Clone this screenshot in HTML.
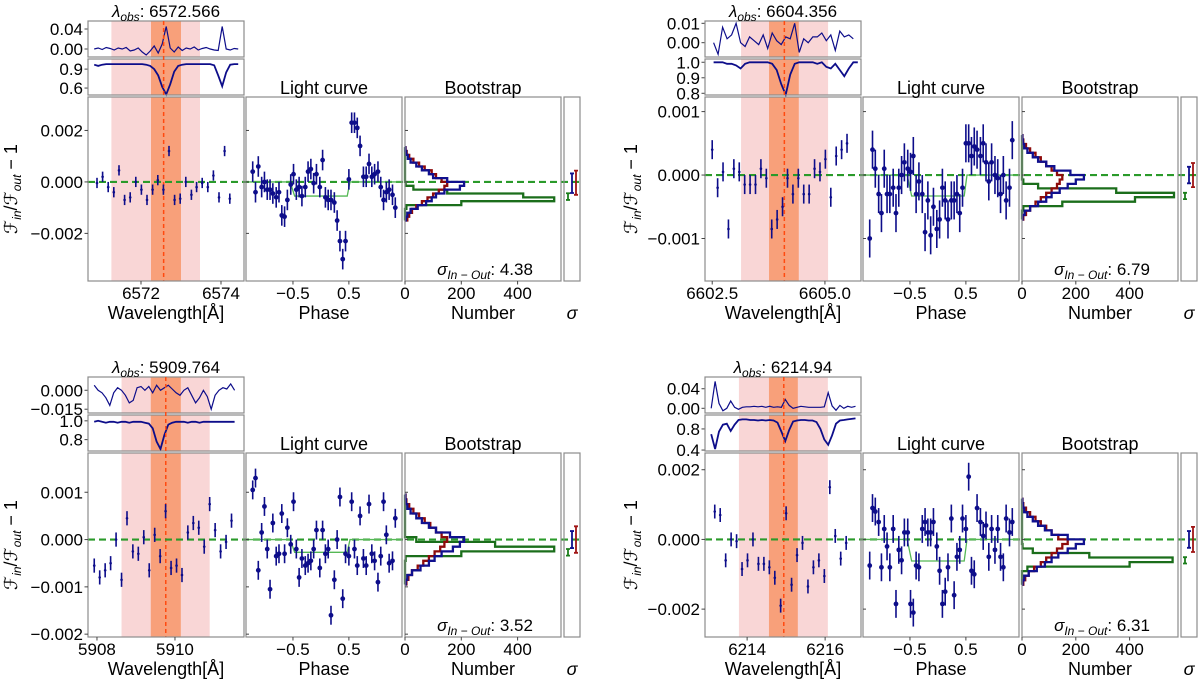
<!DOCTYPE html>
<html><head><meta charset="utf-8"><style>
html,body{margin:0;padding:0;background:#fff;}
svg{display:block;font-family:"Liberation Sans","DejaVu Sans",sans-serif;}
</style></head><body>
<svg id="fig" width="1200" height="684" viewBox="0 0 1200 684" xmlns="http://www.w3.org/2000/svg"></svg>
<script>
// ---------- data (flux values in units of 1e-3) ----------
const wlTL=[6570.90,6571.04,6571.18,6571.32,6571.45,6571.59,6571.73,6571.87,6572.01,6572.15,6572.29,6572.42,6572.56,6572.70,6572.84,6572.98,6573.12,6573.26,6573.39,6573.53,6573.67,6573.81,6573.95,6574.09,6574.22];
const valTL=[-0.04,0.2,-0.2,-0.4,0.45,-0.7,-0.6,0,-0.3,-0.7,-0.3,0.07,-0.3,1.2,-0.7,-0.65,0,-0.5,-0.2,-0.04,-0.2,0.25,-0.6,1.2,-0.65];
const wlTR=[6602.50,6602.62,6602.74,6602.86,6602.98,6603.10,6603.22,6603.34,6603.46,6603.58,6603.70,6603.82,6603.94,6604.06,6604.17,6604.29,6604.41,6604.53,6604.65,6604.77,6604.89,6605.01,6605.13,6605.25,6605.37,6605.49];
const valTR=[0.4,-0.2,0.05,-0.85,0.1,0.05,-0.15,-0.15,-0.15,0.1,-0.05,-0.85,-0.7,-0.5,-0.05,-0.3,-0.05,-0.3,-0.3,0.1,0.05,0.25,-0.35,0.3,0.4,0.5];
const wlBL=[5907.93,5908.07,5908.21,5908.35,5908.49,5908.63,5908.77,5908.92,5909.06,5909.20,5909.34,5909.48,5909.62,5909.76,5909.90,5910.04,5910.18,5910.33,5910.47,5910.61,5910.75,5910.89,5911.03,5911.17,5911.31,5911.45];
const valBL=[-0.55,-0.8,-0.65,-0.5,0,-0.85,0.45,-0.25,-0.3,0.05,-0.65,0.1,-0.35,0.6,-0.6,-0.55,-0.75,0.15,0.35,0.25,-0.15,0.75,0.2,-0.25,-0.05,0.4];
const wlBR=[6213.17,6213.31,6213.45,6213.59,6213.73,6213.87,6214.01,6214.15,6214.29,6214.43,6214.57,6214.71,6214.86,6215.00,6215.14,6215.28,6215.42,6215.56,6215.70,6215.84,6215.98,6216.12,6216.26,6216.40,6216.54];
const valBR=[0.8,0.7,-0.6,0,-0.05,-0.85,-0.6,0,-0.7,-0.7,-0.8,-1.1,-1.9,0.75,-1.3,-0.45,-0.1,-1.35,-0.8,-0.6,-1.05,1.5,0.1,-0.55,-0.1];

const phases=[-1.22,-1.17,-1.12,-1.06,-1.01,-0.96,-0.91,-0.86,-0.80,-0.75,-0.70,-0.65,-0.60,-0.54,-0.49,-0.44,-0.39,-0.34,-0.28,-0.23,-0.18,-0.13,-0.08,-0.02,0.03,0.08,0.13,0.18,0.24,0.29,0.34,0.39,0.44,0.50,0.55,0.60,0.65,0.70,0.76,0.81,0.86,0.91,0.96,1.02,1.07,1.12,1.17,1.22,1.28,1.33];
const lcTL=[0.4,-0.4,0.6,-0.2,0,-0.3,-0.3,-0.45,-0.6,-0.4,-1.3,-1.35,-0.7,-0.1,0.3,-0.3,-0.2,-0.55,-0.2,0.4,0.5,-0.05,0.3,-0.2,0.85,-0.6,-0.7,-0.7,-0.8,-1.5,-2.3,-3.0,-2.3,0.1,2.3,2.3,2.1,1.4,0.2,0.2,0.7,0.2,0.3,0.4,-0.2,-0.7,-0.4,-0.3,-0.5,-1.0];
const lcTR=[-1.0,0.4,0.1,-0.3,-0.6,0.1,-0.3,-0.3,-0.2,-0.6,-0.2,0.0,0.2,0.1,0.05,0.3,-0.3,-0.1,-0.3,-0.9,-0.4,-0.95,-0.5,-0.85,-0.7,-0.2,-0.4,-0.7,-0.4,-0.4,-0.3,-0.6,-0.2,0.5,0.5,0.3,0.45,0.4,0.3,0.5,0.2,-0.1,0.2,0.0,-0.05,-0.3,0.0,-0.4,-0.2,0.55];
const lcBL=[1.05,1.3,-0.65,0.15,0.7,-0.2,-1.05,0.35,-0.35,-0.3,0.55,-0.3,0.25,-0.1,0.8,-0.2,-0.8,-0.4,-0.55,-0.5,-0.45,-0.2,0.2,-0.6,0.2,-0.3,-0.2,-1.6,-0.85,0.0,0.9,-1.25,-0.3,-0.35,0.8,-0.2,-0.55,0.5,-0.4,-0.55,0.75,-0.3,-0.45,-0.9,-0.35,0.8,0.1,-0.5,-0.45,0.45];
const lcBR=[-0.75,0.9,0.8,0.5,-0.8,0.3,-0.2,-0.8,0.3,-1.85,-0.3,-0.6,0.2,0.2,-1.85,-2.1,-0.75,-0.8,0.3,0.5,0.2,0.2,0.5,-0.2,-0.9,-1.85,-1.5,-0.8,0.6,-1.6,-0.5,-0.3,0.6,0.3,1.8,-0.9,-1.0,0.9,0.5,0.1,0.4,-0.5,0.3,-0.3,0.3,-0.5,-0.8,0.6,0.2,0.5];

const histBlueTL=[3,8,20,45,75,95,110,140,195,210,150,100,85,60,40,20,10,4,1];
const histRedTL=[8,15,25,40,60,80,100,120,140,150,130,110,95,70,50,30,15,6,2];
const histGreenTL=[0,0,0,5,200,530,420,150,30,2,0,0,0,0,0,0,0,0,0];
const histBlueTR=[2,10,30,60,90,110,140,170,200,230,180,120,90,60,40,20,8,3,1];
const histRedTR=[5,15,30,50,70,90,110,130,140,150,130,110,90,70,50,30,15,5,2];
const histGreenTR=[0,0,5,150,420,565,350,60,5,0,0,0,0,0,0,0,0,0,0];
const histBlueBL=[2,8,25,55,85,105,130,170,195,210,160,110,85,60,40,20,8,3,1];
const histRedBL=[5,12,25,45,65,85,105,125,140,150,130,110,90,70,50,30,15,5,2];
const histGreenBL=[0,0,0,0,0,2,200,530,320,40,0,0,0,0,0,0,0,0,0];
const histBlueBR=[2,8,25,55,85,110,135,170,200,230,170,110,85,60,40,20,8,3,1];
const histRedBR=[5,12,25,45,70,90,110,130,150,170,135,110,90,70,50,30,15,5,2];
const histGreenBR=[0,0,0,20,400,560,250,40,2,0,0,0,0,0,0,0,0,0,0];

const resTL=[0.000,0.002,-0.001,0.003,0.001,-0.002,0.002,0.000,0.003,-0.004,-0.002,0.002,-0.006,-0.012,-0.004,0.006,-0.008,0.010,0.045,0.002,-0.006,0.004,-0.003,0.002,0.000,0.004,-0.002,0.001,0.003,0.000,-0.002,-0.003,0.045,0.000,-0.002,0.001,0.000];
const fluxTL=[0.97,0.95,0.97,0.98,0.98,0.98,0.98,0.98,0.98,0.98,0.98,0.98,0.98,0.97,0.95,0.90,0.80,0.62,0.50,0.66,0.86,0.95,0.97,0.98,0.98,0.98,0.98,0.98,0.98,0.98,0.96,0.80,0.63,0.85,0.97,0.98,0.98];
const resTR=[0.000,-0.006,0.008,0.002,0.004,0.010,0.000,-0.002,0.003,0.001,-0.001,0.004,-0.003,0.005,0.001,-0.001,0.003,0.002,0.010,-0.005,0.002,0.000,0.003,0.003,0.005,0.001,0.004,-0.004,0.006,0.003,0.004,0.002];
const fluxTR=[1.00,1.00,1.00,0.99,0.99,0.98,0.96,0.99,1.00,1.00,1.00,1.00,1.00,0.99,0.95,0.86,0.79,0.92,0.99,1.00,1.00,1.00,1.00,0.99,1.00,0.97,0.96,0.99,0.95,0.91,0.96,1.00,1.00];
const resBL=[0.004,0.000,-0.002,-0.006,-0.012,-0.002,0.002,0.000,-0.004,-0.010,-0.008,0.002,0.003,0.000,0.003,-0.002,0.004,0.000,0.002,0.004,0.001,-0.002,-0.004,0.000,0.002,-0.004,-0.010,-0.006,0.000,-0.005,-0.015,-0.004,0.000,0.002,0.001,0.005,0.000];
const fluxBL=[0.99,1.00,0.99,0.98,0.99,0.99,0.98,0.99,0.99,0.98,0.99,0.99,0.99,0.98,0.97,0.92,0.78,0.70,0.85,0.96,0.98,0.99,0.99,0.99,0.98,0.99,0.99,0.98,0.99,0.99,0.99,0.99,0.99,0.99,0.99,0.99,0.99];
const resBR=[0.000,0.055,0.010,-0.005,0.000,0.015,0.002,-0.002,0.002,0.003,0.003,0.004,0.003,0.004,0.002,0.004,0.002,0.003,0.002,0.018,0.006,0.000,0.002,0.004,0.003,0.002,0.002,0.002,0.002,0.003,0.032,0.005,-0.004,0.006,0.000,0.004,0.002,0.004];
const fluxBR=[0.70,0.42,0.75,0.88,0.90,0.76,0.88,0.97,0.98,0.98,0.97,0.97,0.96,0.97,0.96,0.97,0.96,0.92,0.75,0.57,0.78,0.94,0.96,0.97,0.97,0.96,0.96,0.93,0.80,0.60,0.50,0.68,0.90,0.96,0.97,0.98,0.99,1.00];

// sigma panel: [center, halfwidth] in 1e-3
const sigTL=[[-0.05,0.38],[-0.03,0.47],[-0.57,0.13]];
const sigTR=[[0,0.13],[0,0.19],[-0.33,0.05]];
const sigBL=[[0,0.18],[0,0.28],[-0.27,0.07]];
const sigBR=[[0,0.24],[0,0.36],[-0.6,0.09]];

const panels=[
 {name:'halpha',ox:0,oy:0,lam:'6572.566',sig:'4.38',wl:wlTL,val:valTL,lc:lcTL,hb:histBlueTL,hr:histRedTL,hg:histGreenTL,sg:sigTL,res:resTL,flux:fluxTL,
  xlo:6570.675,xhi:6574.575,ylo:-3.85,yhi:3.3,xt:[6572,6574],xtl:['6572','6574'],yt:[2,0,-2],ytl:['0.002','0.000','\u22120.002'],
  pink:[6571.26,6573.475],dark:[6572.25,6573.0],line:6572.566,err:0.2,lcerr:0.4,step:-0.55,hs:-1.5,hd:0.15,cs:0.2815,
  sx0:6570.83,sdx:0.1,r1:[-0.016,0.056],r1t:[0.04,0],r1l:['0.04','0.00'],r2:[0.49,1.06],r2t:[0.9,0.6],r2l:['0.9','0.6'],ylx:11},
 {name:'line-6604',ox:617,oy:0,lam:'6604.356',sig:'6.79',wl:wlTR,val:valTR,lc:lcTR,hb:histBlueTR,hr:histRedTR,hg:histGreenTR,sg:sigTR,res:resTR,flux:fluxTR,
  xlo:6602.34,xhi:6605.8,ylo:-1.67,yhi:1.23,xt:[6602.5,6605.0],xtl:['6602.5','6605.0'],yt:[1,0,-1],ytl:['0.001','0.000','\u22120.001'],
  pink:[6603.14,6605.07],dark:[6603.76,6604.42],line:6604.1,err:0.15,lcerr:0.3,step:-0.33,hs:-0.7,hd:0.07,cs:0.269,
  sx0:6602.53,sdx:0.1,r1:[-0.0074,0.0112],r1t:[0.01,0],r1l:['0.01','0.00'],r2:[0.789,1.021],r2t:[1.0,0.9,0.8],r2l:['1.0','0.9','0.8'],ylx:14},
 {name:'line-5910',ox:0,oy:356,lam:'5909.764',sig:'3.52',wl:wlBL,val:valBL,lc:lcBL,hb:histBlueBL,hr:histRedBL,hg:histGreenBL,sg:sigBL,res:resBL,flux:fluxBL,
  xlo:5907.77,xhi:5911.77,ylo:-2.06,yhi:1.83,xt:[5908,5910],xtl:['5908','5910'],yt:[1,0,-1,-2],ytl:['0.001','0.000','\u22120.001','\u22120.002'],
  pink:[5908.63,5910.89],dark:[5909.38,5910.15],line:5909.764,err:0.15,lcerr:0.2,step:-0.27,hs:-0.95,hd:0.1,cs:0.2815,
  sx0:5907.93,sdx:0.1,r1:[-0.018,0.0105],r1t:[0,-0.015],r1l:['0.000','\u22120.015'],r2:[0.679,1.062],r2t:[1.0,0.8],r2l:['1.0','0.8'],ylx:11},
 {name:'line-6215',ox:617,oy:356,lam:'6214.94',sig:'6.31',wl:wlBR,val:valBR,lc:lcBR,hb:histBlueBR,hr:histRedBR,hg:histGreenBR,sg:sigBR,res:resBR,flux:fluxBR,
  xlo:6212.92,xhi:6216.92,ylo:-2.8,yhi:2.48,xt:[6214,6216],xtl:['6214','6216'],yt:[2,0,-2],ytl:['0.002','0.000','\u22120.002'],
  pink:[6213.79,6216.07],dark:[6214.56,6215.3],line:6214.94,err:0.2,lcerr:0.4,step:-0.62,hs:-1.3,hd:0.13,cs:0.269,
  sx0:6213.08,sdx:0.1,r1:[-0.0096,0.064],r1t:[0.04,0],r1l:['0.04','0.00'],r2:[0.382,1.064],r2t:[0.8,0.4],r2l:['0.8','0.4'],ylx:14}
];

// ---------- drawing ----------
const NS='http://www.w3.org/2000/svg';
const svg=document.getElementById('fig');
function mk(tag,attrs,parent,txt){const e=document.createElementNS(NS,tag);for(const k in attrs)e.setAttribute(k,attrs[k]);if(txt!==undefined)e.textContent=txt;(parent||svg).appendChild(e);return e;}
const BLUE='#0d0d8a',AX='#8c8c8c',FS=17;
const PH_LO=-1.34,PH_HI=1.45;

panels.forEach(p=>{
  const g=mk('g',{});
  
  
  const ox=p.ox,oy=p.oy;
  const MX0=88+ox,MX1=244+ox,LX0=246+ox,LX1=402+ox,BX0=405+ox,BX1=561+ox,SX0=564+ox,SX1=580+ox;
  const MY0=97+oy,MY1=281+oy,T1=[21+oy,57+oy],T2=[59+oy,95+oy];
  const sx=v=>MX0+(v-p.xlo)/(p.xhi-p.xlo)*(MX1-MX0);
  const sy=v=>MY0+(p.yhi-v)/(p.yhi-p.ylo)*(MY1-MY0);
  const px=v=>LX0+(v-PH_LO)/(PH_HI-PH_LO)*(LX1-LX0);
  const cx=c=>BX0+c*p.cs;

  [[p.pink,'#f9d6d6'],[p.dark,'#f8a07a']].forEach(([r,col],i)=>{
    const sp=mk('rect',{x:sx(r[0]),y:T1[0],width:sx(r[1])-sx(r[0]),height:MY1-T1[0],fill:col},g);
    
    
  });
  mk('rect',{x:MX0-1,y:T1[1]+0.6,width:MX1-MX0+2,height:1.6,fill:'#fff'},g);
  mk('rect',{x:MX0-1,y:T2[1]+0.6,width:MX1-MX0+2,height:1.6,fill:'#fff'},g);

  [[p.res,T1,p.r1,p.r1t,p.r1l,'residual-spectrum',1.2],[p.flux,T2,p.r2,p.r2t,p.r2l,'flux-spectrum',1.8]].forEach(([arr,T,r,tk,tl,nm,w])=>{
    const yy=v=>T[1]-(v-r[0])/(r[1]-r[0])*(T[1]-T[0]);
    const d=arr.map((v,i)=>(i?'L':'M')+sx(p.sx0+i*p.sdx).toFixed(1)+','+yy(v).toFixed(1)).join('');
    const l=mk('path',{d:d,fill:'none',stroke:BLUE,'stroke-width':w},g);
    
    
    tk.forEach((t,i)=>{
      mk('line',{x1:MX0-3.5,x2:MX0,y1:yy(t),y2:yy(t),stroke:'#444','stroke-width':1},g);
      const tx=mk('text',{x:MX0-5,y:yy(t)+6,'text-anchor':'end','font-size':FS},g,tl[i]);
      
      
    });
    const fr=mk('rect',{x:MX0,y:T[0],width:MX1-MX0,height:T[1]-T[0],fill:'none',stroke:AX,'stroke-width':1.2},g);
    
    
  });
  const cl=mk('line',{x1:sx(p.line),x2:sx(p.line),y1:T1[0],y2:MY1,stroke:'#ff4a10','stroke-width':1.5,'stroke-dasharray':'4,3'},g);
  
  

  const tt=mk('text',{x:(MX0+MX1)/2,y:17+oy,'text-anchor':'middle','font-size':FS},g);
  
  
  mk('tspan',{'font-style':'italic'},tt,'\u03bb');
  mk('tspan',{'font-size':12,dy:4,'font-style':'italic'},tt,'obs');
  mk('tspan',{dy:-4},tt,': '+p.lam);

  const zl=mk('line',{x1:MX0,x2:SX1,y1:sy(0),y2:sy(0),stroke:'#2a9a2a','stroke-width':2.2,'stroke-dasharray':'7,4'},g);
  
  

  p.wl.forEach((w,i)=>{
    const x=sx(w),y=sy(p.val[i]);
    const e=mk('line',{x1:x,x2:x,y1:sy(p.val[i]+p.err),y2:sy(p.val[i]-p.err),stroke:BLUE,'stroke-width':1.6},g);
    
    
    const c=mk('circle',{cx:x,cy:y,r:1.3,fill:BLUE},g);
    
    
  });

  const ms=mk('path',{d:`M${LX0},${sy(0)}L${px(-0.55)},${sy(0)}L${px(-0.47)},${sy(p.step)}L${px(0.47)},${sy(p.step)}L${px(0.52)},${sy(0)}L${LX1},${sy(0)}`,fill:'none',stroke:'#55b855','stroke-width':1.3},g);
  
  
  phases.forEach((ph,i)=>{
    const x=px(ph),v=p.lc[i];
    const e=mk('line',{x1:x,x2:x,y1:sy(v+p.lcerr),y2:sy(v-p.lcerr),stroke:BLUE,'stroke-width':1.6},g);
    
    
    const c=mk('circle',{cx:x,cy:sy(v),r:2.4,fill:BLUE},g);
    
    
  });

  [[p.hg,'#1b6e1b','green'],[p.hr,'#8e0b0b','red'],[p.hb,'#10108e','blue']].forEach(([arr,col,nm])=>{
    let d=`M${cx(0)},${sy(p.hs)}`;
    arr.forEach((c,i)=>{d+=`L${cx(c).toFixed(1)},${sy(p.hs+i*p.hd).toFixed(1)}L${cx(c).toFixed(1)},${sy(p.hs+(i+1)*p.hd).toFixed(1)}`;});
    d+=`L${cx(0)},${sy(p.hs+arr.length*p.hd)}`;
    const h=mk('path',{d:d,fill:'none',stroke:col,'stroke-width':2.3},g);
    
    
  });

  [[p.sg[0],SX0+8,'#10108e','blue'],[p.sg[1],SX0+12,'#a01515','red'],[p.sg[2],SX0+4,'#1b7e1b','green']].forEach(([s,x,col,nm])=>{
    const e=mk('path',{d:`M${x},${sy(s[0]+s[1])}L${x},${sy(s[0]-s[1])}M${x-2},${sy(s[0]+s[1])}L${x+2},${sy(s[0]+s[1])}M${x-2},${sy(s[0]-s[1])}L${x+2},${sy(s[0]-s[1])}`,stroke:col,'stroke-width':1.8,fill:'none'},g);
    
    
  });

  [[MX0,MX1,'main-axes'],[LX0,LX1,'lightcurve-axes'],[BX0,BX1,'bootstrap-axes'],[SX0,SX1,'sigma-axes']].forEach(([a,b,nm])=>{
    const f=mk('rect',{x:a,y:MY0,width:b-a,height:MY1-MY0,fill:'none',stroke:AX,'stroke-width':1.2},g);
    
    
  });

  p.yt.forEach((t,i)=>{
    mk('line',{x1:MX0-3.5,x2:MX0,y1:sy(t),y2:sy(t),stroke:'#444'},g);
    mk('line',{x1:LX0,x2:LX0+3,y1:sy(t),y2:sy(t),stroke:'#444'},g);
    mk('line',{x1:BX0,x2:BX0+3,y1:sy(t),y2:sy(t),stroke:'#444'},g);
    const tx=mk('text',{x:MX0-5,y:sy(t)+6,'text-anchor':'end','font-size':FS},g,p.ytl[i]);
    
    
  });
  const TY=MY1+18;
  p.xt.forEach((t,i)=>{
    mk('line',{x1:sx(t),x2:sx(t),y1:MY1,y2:MY1+3.5,stroke:'#444'},g);
    const tx=mk('text',{x:sx(t),y:TY,'text-anchor':'middle','font-size':FS},g,p.xtl[i]);
    
    
  });
  [[-0.5,'\u22120.5'],[0.5,'0.5']].forEach(([t,l])=>{
    mk('line',{x1:px(t),x2:px(t),y1:MY1,y2:MY1+3.5,stroke:'#444'},g);
    const tx=mk('text',{x:px(t),y:TY,'text-anchor':'middle','font-size':FS},g,l);
    
    
  });
  [[0,'0'],[200,'200'],[400,'400']].forEach(([t,l])=>{
    mk('line',{x1:cx(t),x2:cx(t),y1:MY1,y2:MY1+3.5,stroke:'#444'},g);
    const tx=mk('text',{x:cx(t),y:TY,'text-anchor':'middle','font-size':FS},g,l);
    
    
  });

  const AY=MY1+38;
  [['Wavelength[\u00c5]',(MX0+MX1)/2,'x-axis-title-wavelength'],['Phase',(LX0+LX1)/2,'x-axis-title-phase'],['Number',(BX0+BX1)/2,'x-axis-title-number']].forEach(([t,x,nm])=>{
    const tx=mk('text',{x:x,y:AY,'text-anchor':'middle','font-size':FS+1},g,t);
    
    
  });
  const sl=mk('text',{x:(SX0+SX1)/2,y:AY,'text-anchor':'middle','font-size':FS+1,'font-style':'italic'},g,'\u03c3');
  
  
  [['Light curve',(LX0+LX1)/2,'lightcurve-title'],['Bootstrap',(BX0+BX1)/2,'bootstrap-title']].forEach(([t,x,nm])=>{
    const tx=mk('text',{x:x,y:MY0-3,'text-anchor':'middle','font-size':FS+1},g,t);
    
    
  });
  const st=mk('text',{x:(BX0+BX1)/2+2,y:MY1-6,'text-anchor':'middle','font-size':FS},g);
  
  
  mk('tspan',{'font-style':'italic'},st,'\u03c3');
  mk('tspan',{'font-size':12,dy:4,'font-style':'italic'},st,'In \u2212 Out');
  mk('tspan',{dy:-4},st,': '+p.sig);

  const yl=mk('text',{x:0,y:0,'text-anchor':'middle','font-size':FS+1,transform:`translate(${p.ylx+ox+6},${(MY0+MY1)/2}) rotate(-90)`},g);
  
  
  mk('tspan',{'font-style':'italic'},yl,'\u2131');
  mk('tspan',{'font-size':12,dy:4,'font-style':'italic'},yl,'in');
  mk('tspan',{dy:-4},yl,'/');
  mk('tspan',{'font-style':'italic'},yl,'\u2131');
  mk('tspan',{'font-size':12,dy:4,'font-style':'italic'},yl,'out');
  mk('tspan',{dy:-4},yl,' \u2212 1');
});
</script>
</body></html>
